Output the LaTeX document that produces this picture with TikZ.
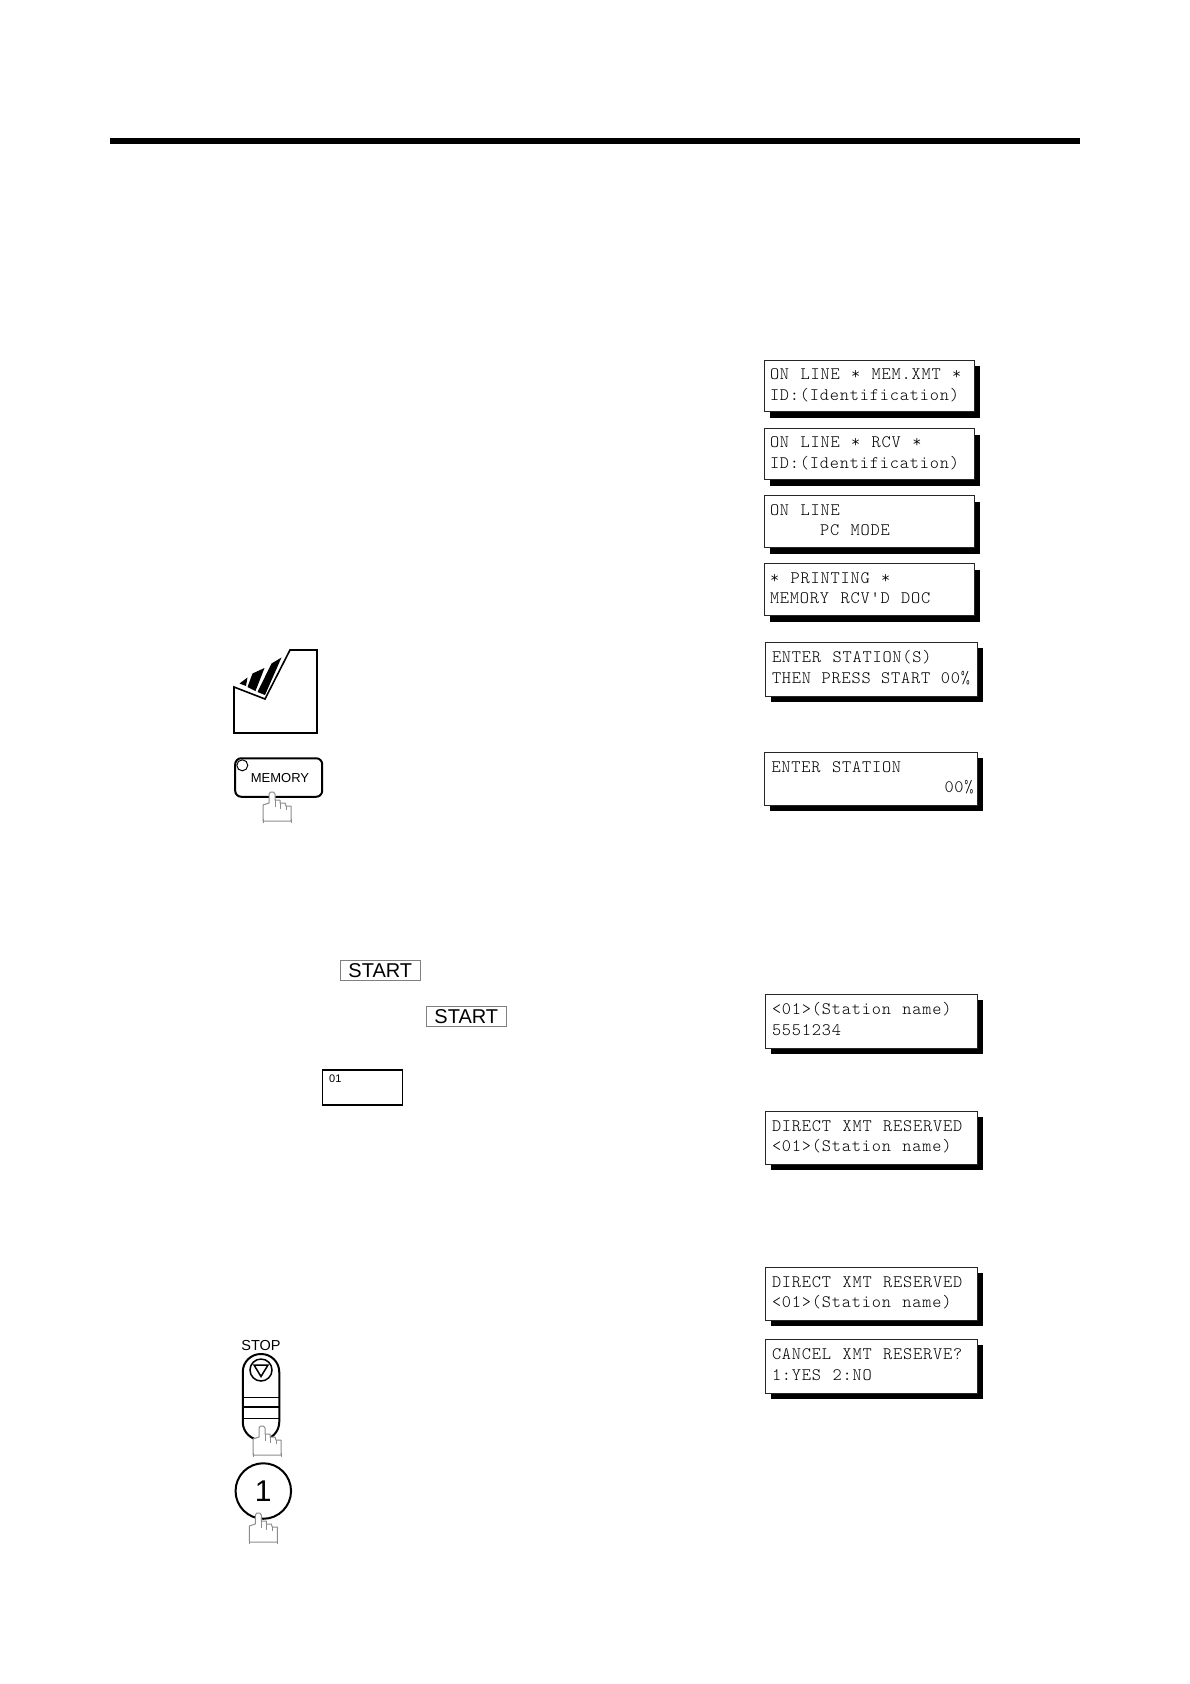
\documentclass[tikz,border=0pt]{standalone}
\usepackage{fontspec}
\setmainfont{Liberation Sans}
\newfontfamily\lcdfont[LetterSpace=4.6,WordSpace=1.14]{Latin Modern Mono Light}
\usetikzlibrary{positioning, shadows}

\begin{document}
\begin{tikzpicture}[
        x=1pt, y=-1pt,
        node distance=17pt,
        lcd/.style={rectangle, draw=black!85, line width=1pt, fill=white, minimum width=210pt, minimum height=52pt,
            inner xsep=6pt, inner ysep=0pt, outer sep=0pt, text width=198pt, align=flush left,
            font=\fontsize{17.5}{20.5}\selectfont\lcdfont,
            execute at begin node=\strut, execute at end node=\strut,
            drop shadow={shadow xshift=6pt, shadow yshift=-6pt, fill=black, opacity=1}},
        startkey/.style={rectangle, draw=black!50, line width=0.8pt, minimum width=80pt, minimum height=20pt,
            inner sep=0pt, font=\fontsize{20}{20}\selectfont},
        keybox/.style={rectangle, draw, line width=2pt, fill=white, inner sep=0pt},
        hand/.pic={
            \draw[black!45, line width=1pt, fill=white, line join=round]
                (-9,29) -- (-9,13) -- (-3,11) -- (-3,2) -- (-1.5,0) -- (1.5,0) -- (3,2) -- (3,8) -- (8,8)
                -- (8,11) -- (13,11) -- (14,14) -- (19,14) -- (19,29) -- cycle;
            \draw[black!45, line width=0.8pt] (3,8) -- (3,15) (8,11) -- (8,17) (14,14) -- (14,18);
            \draw[black!45, line width=0.8pt] (-9,27) -- (-9,31) (19,27) -- (19,31);
        }
    ]
        \useasboundingbox (0,0) rectangle (1190,1684);
        \fill[white] (0,0) rectangle (1190,1684);

        % top rule
        \fill[black] (110,138) rectangle (1080,144);

        % displays, first column
        \node[lcd, anchor=north west, minimum height=51.5pt] (online) at (764,360) {ON LINE * MEM.XMT *\\ID:(Identification)};
        \node[lcd, below=17pt of online, minimum height=51pt] (rcv) {ON LINE * RCV *\\ID:(Identification)};
        \node[lcd, below=16pt of rcv] (pcmode) {ON LINE\\\hspace*{50pt}PC MODE};
        \node[lcd, below=16pt of pcmode] (printing) {* PRINTING *\\MEMORY RCV'D DOC};
        \node[lcd, anchor=north west, minimum width=212pt, minimum height=54pt] (enters) at (765,642) {ENTER STATION(S)\\THEN~PRESS~START~00\%};
        \node[lcd, anchor=north west, minimum width=213pt, minimum height=53pt] (enter) at (764,752) {ENTER STATION\\\hspace*{173pt}00\%};
        \node[lcd, anchor=north west, minimum width=212pt, minimum height=54pt] (stname) at (765,994) {<01>(Station name)\\5551234};
        \node[lcd, anchor=north west, minimum width=212pt, minimum height=53pt] (direct) at (765,1111) {DIRECT XMT RESERVED\\<01>(Station name)};
        \node[lcd, anchor=north west, minimum width=212pt, minimum height=53pt] (reserved) at (765,1267) {DIRECT XMT RESERVED\\<01>(Station name)};
        \node[lcd, below=19pt of reserved, minimum width=212pt, minimum height=54pt] (cancel) {CANCEL XMT RESERVE?\\1:YES 2:NO};

        % document icon
        \draw[line width=1.6pt, line join=miter] (234,687) -- (234,733) -- (317,733) -- (317,650) -- (290,650) -- (265,699) -- cycle;
        \fill (239.5,683.5) -- (247.5,677.5) -- (246,686) -- cycle;
        \fill (247.5,687) -- (252.5,673.5) -- (264.5,668) -- (255.5,691) -- cycle;
        \fill (257.5,692) -- (271.5,663.5) -- (281.5,657.5) -- (265,695) -- cycle;

        % memory key
        \node[keybox, rounded corners=6pt, minimum width=87pt, minimum height=38.5pt] (memkey) at (278.7,777.5) {};
        \node[circle, draw, fill=white, line width=1pt, minimum size=11pt, inner sep=0pt] (memled) at (242.3,765.3) {};
        \node[inner sep=0pt, font=\fontsize{13}{13}\selectfont] (memlabel) at (280,778) {MEMORY};
        \pic at (272,792) {hand};

        % keys inside the text
        \node[startkey] (start) at (380.3,970.5) {START};
        \node[startkey] (startb) at (466.3,1016.5) {START};
        \node[rectangle, draw, line width=1.5pt, minimum width=80pt, minimum height=35pt, inner sep=0pt] (stbox) at (362.7,1087.5) {};
        \node[inner sep=0pt, font=\fontsize{11}{11}\selectfont, anchor=west] (stno) at (329,1079) {01};

        % stop key
        \node[inner sep=0pt, font=\fontsize{14.5}{14.5}\selectfont] (stoplabel) at (261,1345) {STOP};
        \node[keybox, rounded corners=18pt, minimum width=36.5pt, minimum height=86pt] (stopkey) at (261,1397) {};
        \node[circle, draw, line width=1.5pt, minimum size=22pt, inner sep=0pt] (stopring) at (261,1370) {};
        \draw[line width=1.5pt, line join=miter] (254,1365) -- (268,1365) -- (261,1376.5) -- cycle;
        \draw[line width=1pt] (243,1397) -- (279,1397) (243,1418) -- (279,1418);
        \draw[line width=1.6pt] (243,1407) -- (279,1407);
        \pic at (262,1426) {hand};

        % key 1
        \node[circle, draw, line width=2pt, fill=white, minimum size=55.5pt, inner sep=0pt, font=\fontsize{30}{30}\selectfont] (one) at (263.3,1491) {1};
        \pic at (258.3,1513) {hand};
    \end{tikzpicture}
\end{document}
